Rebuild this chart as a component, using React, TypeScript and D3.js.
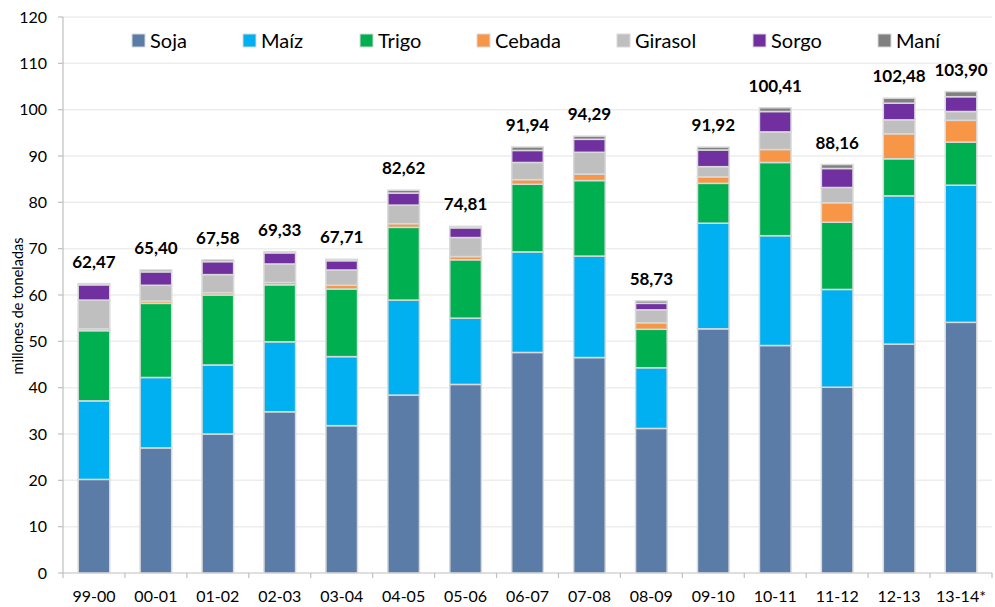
import React from "react";
import * as d3 from "d3";

const categories = ["99-00","00-01","01-02","02-03","03-04","04-05","05-06","06-07","07-08","08-09","09-10","10-11","11-12","12-13","13-14*"];
const soja =    [20.20,27.00,30.00,34.80,31.80,38.40,40.70,47.60,46.50,31.20,52.70,49.10,40.10,49.40,54.10];
const maiz =    [16.95,15.20,14.90,15.10,14.90,20.50,14.30,21.70,21.90,13.10,22.80,23.70,21.10,32.00,29.60];
const trigo =   [15.15,16.00,15.10,12.30,14.60,15.70,12.60,14.60,16.30,8.30,8.60,15.80,14.50,8.00,9.30];
const cebada =  [0.40,0.50,0.50,0.50,0.80,0.80,0.70,1.00,1.40,1.40,1.40,2.80,4.20,5.40,4.70];
const girasol = [6.20,3.40,3.90,4.00,3.30,4.00,4.10,3.70,4.70,2.80,2.20,3.80,3.30,3.00,1.90];
const sorgo =   [3.30,2.90,2.80,2.40,2.00,2.60,2.10,2.60,2.80,1.40,3.60,4.40,4.10,3.60,3.20];
const mani =    [0.27,0.40,0.38,0.23,0.31,0.62,0.31,0.74,0.69,0.53,0.62,0.81,0.86,1.08,1.10];
const totals =  [62.47,65.40,67.58,69.33,67.71,82.62,74.81,91.94,94.29,58.73,91.92,100.41,88.16,102.48,103.90];
const seriesNames = ["Soja","Maíz","Trigo","Cebada","Girasol","Sorgo","Maní"];
const seriesColors = ["#5B7CA6","#00B0F0","#00B050","#F79646","#BFBFBF","#7030A0","#808080"];
const yTicks = [0,10,20,30,40,50,60,70,80,90,100,110,120];
const legendX = [132,243,360,477,617,753,878];

const W = 995, H = 607;
const FONT = "Lato, 'Open Sans', sans-serif";

export default function App() {
  const seriesData = [soja, maiz, trigo, cebada, girasol, sorgo, mani];
  const rows = categories.map((c, i) => {
    const r: any = { cat: c };
    seriesNames.forEach((s, k) => (r[s] = seriesData[k][i]));
    return r;
  });
  const stacked = d3.stack().keys(seriesNames)(rows);
  const x = d3.scaleBand().domain(categories).range([63, 992]).paddingInner(0.49).paddingOuter(0.245);
  const y = d3.scaleLinear().domain([0, 120]).range([573, 17]);
  const step = x.step();
  const x0 = 63, x1 = 992;

  return (
    <svg width={W} height={H} style={{ position: "absolute", left: 0, top: 0, background: "#fff" }} fontFamily={FONT}>
      {/* gridlines */}
      {yTicks.filter(t => t > 0).map(t => (
        <line key={"g" + t} x1={x0} x2={x1} y1={y(t)} y2={y(t)} stroke="#EDEDED" strokeWidth={1.5} />
      ))}
      {/* y axis */}
      <line x1={x0} x2={x0} y1={y(120)} y2={y(0)} stroke="#BFBFBF" strokeWidth={1.2} />
      {yTicks.map(t => (
        <g key={"yt" + t}>
          <line x1={x0 - 5} x2={x0} y1={y(t)} y2={y(t)} stroke="#BFBFBF" strokeWidth={1.2} />
          <text x={47} y={y(t)} dy="0.36em" textAnchor="end" fontSize={16} fill="#000">{t}</text>
        </g>
      ))}
      <text transform="translate(23,306) rotate(-90)" textAnchor="middle" fontSize={14.5} fill="#000">millones de toneladas</text>
      {/* x axis */}
      <line x1={x0} x2={x1} y1={y(0)} y2={y(0)} stroke="#BFBFBF" strokeWidth={1.2} />
      {d3.range(categories.length + 1).map(i => (
        <line key={"xt" + i} x1={x0 + i * step} x2={x0 + i * step} y1={y(0)} y2={y(0) + 5} stroke="#BFBFBF" strokeWidth={1.2} />
      ))}
      {categories.map(c => (
        <text key={"xl" + c} x={(x(c) as number) + x.bandwidth() / 2} y={602} textAnchor="middle" fontSize={16} fill="#000">{c}</text>
      ))}
      {/* bars */}
      {stacked.map((s, k) => (
        <g key={"s" + k} fill={seriesColors[k]}>
          {s.map((d, i) => (
            <rect key={i} x={x(categories[i]) as number} width={x.bandwidth()} y={y(d[1])} height={Math.max(0, y(d[0]) - y(d[1]))}
              stroke="#D9D9D9" strokeWidth={1.5} />
          ))}
        </g>
      ))}
      {/* totals */}
      {categories.map((c, i) => (
        <text key={"tot" + c} x={(x(c) as number) + x.bandwidth() / 2} y={y(totals[i]) - 16} textAnchor="middle" fontSize={17} fontWeight="bold" fill="#000">
          {totals[i].toFixed(2).replace(".", ",")}
        </text>
      ))}
      {/* legend */}
      {seriesNames.map((n, k) => (
        <g key={"lg" + n} transform={`translate(${legendX[k]},34)`}>
          <rect x={0} y={0} width={13} height={13} fill={seriesColors[k]} stroke="#D9D9D9" strokeWidth={1} />
          <text x={18} y={6.5} dy="0.36em" fontSize={20} fill="#000">{n}</text>
        </g>
      ))}
    </svg>
  );
}
